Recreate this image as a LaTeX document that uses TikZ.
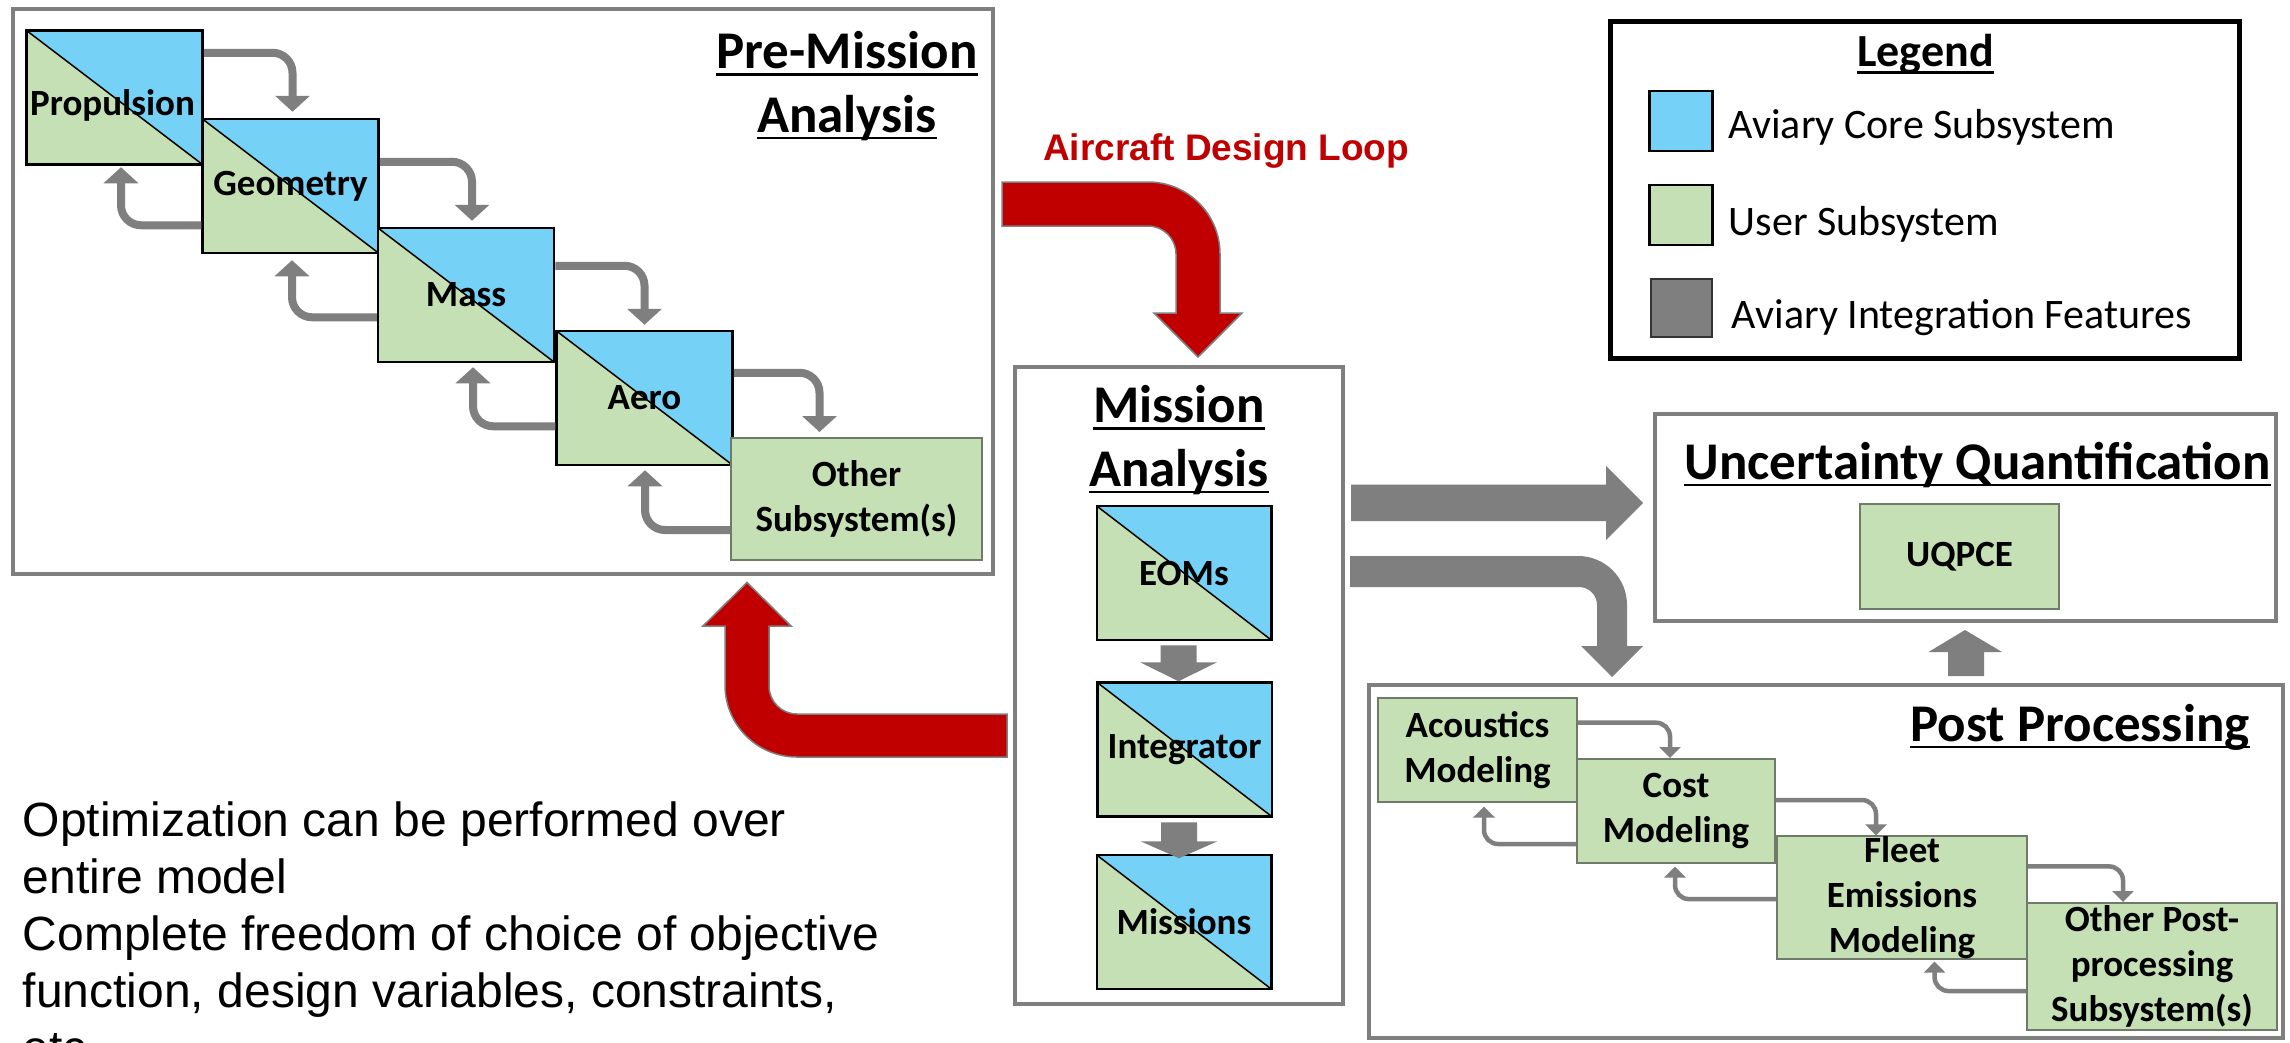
\documentclass[tikz,border=0pt]{standalone}
\usepackage{fontspec}
\setmainfont{Carlito}
\newfontfamily\arialfont{Liberation Sans}
\usetikzlibrary{arrows.meta}
\definecolor{cblue}{HTML}{75D1F5}
\definecolor{cgreen}{HTML}{C5E0B4}
\definecolor{cgray}{HTML}{7F7F7F}
\definecolor{cred}{HTML}{C00000}
\definecolor{cbord}{HTML}{707A69}
\newcommand\lblfont{\bfseries\fontsize{37}{45}\selectfont}
\newcommand\ttlfont{\bfseries\fontsize{53}{60}\selectfont}
\begin{document}
\begin{tikzpicture}[x=1pt,y=-1pt,
  splitbox/.style={draw=black, line width=2.5pt, minimum width=176pt, minimum height=134pt, inner sep=0pt, font=\lblfont, align=center,
    path picture={
      \fill[cblue] (path picture bounding box.north west) -- (path picture bounding box.north east) -- (path picture bounding box.south east) -- cycle;
      \fill[cgreen] (path picture bounding box.north west) -- (path picture bounding box.south west) -- (path picture bounding box.south east) -- cycle;
      \draw[line width=1.5pt] (path picture bounding box.north west) -- (path picture bounding box.south east);}},
  userbox/.style={draw=cbord, line width=2pt, fill=cgreen, inner sep=0pt, font=\lblfont, align=center},
  frame/.style={draw=cgray, line width=4.5pt},
  ttl/.style={font=\ttlfont, inner sep=0pt, anchor=base},
  ul/.style={line width=2.5pt},
  fwd/.style={draw=cgray, line width=8pt, rounded corners=20pt, -{Triangle[width=34pt,length=16pt]}},
  fwds/.style={draw=cgray, line width=4.5pt, rounded corners=14pt, -{Triangle[width=21pt,length=11pt]}},
  redarrow/.style={fill=cred, draw=cgray, line width=1.5pt},
  grayarrow/.style={fill=cgray},
  legtxt/.style={anchor=base west, inner sep=0pt, font=\fontsize{42}{48}\selectfont},
  bodytxt/.style={anchor=base west, inner sep=0pt, font=\arialfont\fontsize{48}{57}\selectfont},
]
\clip (0,0) rectangle (2290,1042);
\fill[white] (0,0) rectangle (2290,1042);

% ---------- frames ----------
\draw[frame] (13,9) rectangle (993,574);
\draw[frame] (1015,367) rectangle (1343,1004);
\draw[frame] (1655,414) rectangle (2276,621);
\draw[frame] (1369,685) rectangle (2283,1038);
\draw[line width=5pt] (1610,21) rectangle (2239,358);

% ---------- titles ----------
\node[ttl] (pmt1) at (847,68.5) {Pre-Mission};
\node[ttl] (pmt2) at (847,132) {Analysis};
\node[ttl] (mt1) at (1179,422.6) {Mission};
\node[ttl] (mt2) at (1179,486) {Analysis};
\node[ttl] (uqt) at (1977.5,479) {Uncertainty Quantification};
\node[ttl] (ppt) at (2080,741) {Post Processing};
\node[ttl, font=\bfseries\fontsize{46}{52}\selectfont] (lgt) at (1925.6,66.7) {Legend};
\foreach \t in {pmt1,pmt2,mt1,mt2,uqt,ppt,lgt}
  \draw[ul] ([yshift=-6pt]\t.base west) -- ([yshift=-6pt]\t.base east);

% ---------- legend ----------
\node[draw=black, line width=2.5pt, fill=cblue, minimum width=63pt, minimum height=60pt, inner sep=0pt] (lgblue) at (1681,121) {};
\node[draw=black, line width=2.5pt, fill=cgreen, minimum width=63pt, minimum height=60pt, inner sep=0pt] (lggreen) at (1681,215) {};
\node[draw=black!80, line width=2pt, fill=cgray, minimum width=61pt, minimum height=58pt, inner sep=0pt] (lggray) at (1681.5,308) {};
\node[legtxt] (lt1) at (1728.5,138) {Aviary Core Subsystem};
\node[legtxt] (lt2) at (1728.5,235) {User Subsystem};
\node[legtxt] (lt3) at (1731.7,328.3) {Aviary Integration Features};

% ---------- pre-mission ----------
\node[splitbox] (prop) at (114.5,97.5) {};
\node[font=\lblfont, inner sep=0pt] (proplbl) at ([xshift=-2pt,yshift=-8pt]prop.center) {Propulsion};
\node[splitbox] (geo) at (290.5,186) {Geometry};
\node[splitbox] (mass) at (466,295) {Mass};
\node[splitbox] (aero) at (644.5,398) {Aero};
\node[userbox, minimum width=251pt, minimum height=122pt] (other) at (856.5,499) {Other\\Subsystem(s)};

\draw[fwd] ([yshift=-23.5pt]prop.north east) -| ([xshift=2pt,yshift=6pt]geo.north);
\draw[fwd] ([yshift=-44pt]geo.north east) -| ([xshift=6pt,yshift=6pt]mass.north);
\draw[fwd] ([yshift=-39pt]mass.north east) -| ([yshift=5pt]aero.north);
\draw[fwd] ([yshift=-43pt]aero.north east) -| ([xshift=-37pt,yshift=5pt]other.north);
\draw[fwd] ([yshift=29pt]geo.south west) -| ([xshift=6.5pt,yshift=-1.5pt]prop.south);
\draw[fwd] ([yshift=46pt]mass.south west) -| ([xshift=1.5pt,yshift=-6pt]geo.south);
\draw[fwd] ([yshift=40pt]aero.south west) -| ([xshift=7pt,yshift=-4pt]mass.south);
\draw[fwd] ([yshift=31pt]other.south west) -| ([xshift=0.5pt,yshift=-4pt]aero.south);

% ---------- mission ----------
\node[splitbox, minimum width=174.5pt] (eom) at (1184,573) {EOMs};
\node[splitbox, minimum width=174.5pt] (integ) at (1184.5,749.5) {Integrator};
\node[splitbox, minimum width=174.5pt] (miss) at (1184,922) {Missions};
\fill[grayarrow, shift={(eom.south)}] (-23.5,4) -- (12.5,4) -- (12.5,21) -- (33,21) -- (-5.5,40) -- (-44,21) -- (-23.5,21) -- cycle;
\fill[grayarrow, shift={(integ.south)}] (-23.5,4.5) -- (12.5,4.5) -- (12.5,23.5) -- (33,23.5) -- (-5.5,40.5) -- (-44,23.5) -- (-23.5,23.5) -- cycle;

% ---------- uncertainty quantification ----------
\node[userbox, minimum width=199pt, minimum height=105pt] (uqpce) at (1959.5,556.5) {UQPCE};

% ---------- post processing ----------
\node[userbox, minimum width=199pt, minimum height=104pt] (ac) at (1477.5,750) {Acoustics\\Modeling};
\node[userbox, minimum width=198pt, minimum height=104pt] (cost) at (1676,811) {Cost\\Modeling};
\node[userbox, minimum width=250pt, minimum height=121pt] (fleet) at (1902,897.5) {Fleet\\Emissions\\Modeling};
\node[userbox, minimum width=249.5pt, minimum height=127pt] (other2) at (2152,966.5) {Other Post-\\processing\\Subsystem(s)};

\draw[fwds] ([yshift=-25.7pt]ac.north east) -| ([xshift=-6pt]cost.north);
\draw[fwds] ([yshift=-42pt]cost.north east) -| ([xshift=-26pt]fleet.north);
\draw[fwds] ([yshift=-31pt]fleet.north east) -| ([xshift=-29pt]other2.north);
\draw[fwds] ([yshift=20pt]cost.south west) -| ([xshift=6.5pt,yshift=-3.5pt]ac.south);
\draw[fwds] ([yshift=60.5pt]fleet.south west) -| ([xshift=-1pt,yshift=-2.5pt]cost.south);
\draw[fwds] ([yshift=40pt]other2.south west) -| ([xshift=32.5pt,yshift=-2pt]fleet.south);

% ---------- big gray arrows ----------
\fill[grayarrow] (1351,484.5) -- (1606,484.5) -- (1606,466) -- (1643,503) -- (1606,540) -- (1606,521) -- (1351,521) -- cycle;
\fill[grayarrow] (1350,556) -- (1578,556) .. controls (1605.1,556) and (1627,577.9) .. (1627,605) -- (1627,646) -- (1643,646) -- (1612,677) -- (1581,646) -- (1597,646) -- (1597,605) .. controls (1597,595.1) and (1588.9,587) .. (1579,587) -- (1350,587) -- cycle;
\fill[grayarrow] (1948,676) -- (1948,652) -- (1928.5,652) -- (1965,630) -- (2002,652) -- (1984,652) -- (1984,676) -- cycle;

% ---------- red design loop arrows ----------
\node[anchor=base west, inner sep=0pt, text=cred, font=\arialfont\bfseries\fontsize{37}{44}\selectfont] (adl) at (1043,160) {Aircraft Design Loop};
\draw[redarrow] (1002,182) -- (1148,182) .. controls (1187.8,182) and (1220,214.2) .. (1220,254) -- (1220,313) -- (1242,313) -- (1198,357) -- (1154,313) -- (1176,313) -- (1176,254) .. controls (1176,238.5) and (1163.5,226) .. (1148,226) -- (1002,226) -- cycle;
\draw[redarrow] (1007,714) -- (797,714) .. controls (781.5,714) and (769,701.5) .. (769,686) -- (769,626) -- (791,626) -- (747,582.5) -- (703,626) -- (725,626) -- (725,685) .. controls (725,724.8) and (757.2,757) .. (797,757) -- (1007,757) -- cycle;

% ---------- text ----------
\node[bodytxt] (tx1) at (22.7,836) {Optimization can be performed over};
\node[bodytxt] (tx2) at (22.7,893) {entire model};
\node[bodytxt] (tx3) at (22.7,950) {Complete freedom of choice of objective};
\node[bodytxt] (tx4) at (22.7,1007) {function, design variables, constraints,};
\node[bodytxt] (tx5) at (22.7,1064) {etc.};
\end{tikzpicture}
\end{document}
